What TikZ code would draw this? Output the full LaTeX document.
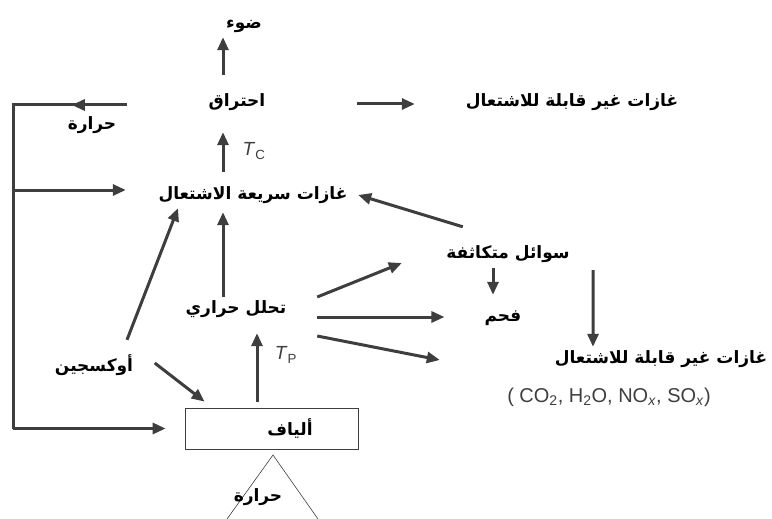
\documentclass[tikz,border=0pt]{standalone}
\usepackage{fontspec}
\setmainfont{Liberation Sans}
\newfontfamily\arabicfont[Script=Arabic]{DejaVu Sans}
\TeXXeTstate=1
\usetikzlibrary{arrows.meta,positioning}
\definecolor{flowgray}{RGB}{62,62,62}
\tikzset{
  artxt/.style={font=\arabicfont\bfseries\fontsize{17}{19}\selectfont,
    inner sep=0pt, text height=14pt, text depth=1pt, minimum width=#1},
  artxt/.default=40pt,
  lattxt/.style={font=\fontsize{19}{21}\selectfont, inner sep=0pt, text=flowgray},
  flow/.style={draw=flowgray, line width=3pt, -{Triangle[length=13pt,width=11pt]}},
  plain/.style={draw=flowgray, line width=3pt},
}
\newcommand{\artext}[1]{\beginR #1\endR}

\begin{document}
\begin{tikzpicture}[x=1pt,y=-1pt]
  \useasboundingbox (0,0) rectangle (772,519);

  % Combustion level
  \node[artxt=45pt] (light) at (244,22) {\artext{ضوء}};
  \node[artxt=60pt] (comb) at (237,100) {\artext{احتراق}};
  \node[artxt=231pt] (nonfl1) at (572,100) {\artext{غازات غير قابلة للاشتعال}};
  \node[artxt=50pt] (heatL) at (92,123) {\artext{حرارة}};
  \node[lattxt] (Tc) at (254,151) {\textit{T}\textsubscript{C}};
  \node[artxt=190pt] (fastgas) at (253,193) {\artext{غازات سريعة الاشتعال}};

  % Pyrolysis level
  \node[artxt=127pt] (liquids) at (508,252) {\artext{سوائل متكاثفة}};
  \node[artxt=30pt] (charcoal) at (503,315) {\artext{فحم}};
  \node[artxt=102pt] (pyro) at (236,307) {\artext{تحلل حراري}};
  \node[artxt=217pt] (nonfl2) at (661,357) {\artext{غازات غير قابلة للاشتعال}};
  \node[lattxt, font=\fontsize{20}{22}\selectfont] (formula) at (609,397)
    {( CO\textsubscript{2}, H\textsubscript{2}O, NO\textsubscript{\textit{x}}, SO\textsubscript{\textit{x}})};
  \node[lattxt] (Tp) at (286,355) {\textit{T}\textsubscript{P}};
  \node[artxt=75pt] (oxy) at (94,365) {\artext{أوكسجين}};

  % Fibres and heat source
  \node[draw=flowgray, line width=0.8pt, minimum width=173pt, minimum height=41pt,
        inner sep=0pt, font=\arabicfont\bfseries\fontsize{17}{19}\selectfont]
        (fibre) at (271.5,428.5) {\hspace*{37pt}\artext{ألياف}};
  \draw[flowgray, line width=0.6pt] (227,519) -- (273,455) -- (318,519);
  \node[artxt=45pt] (heatB) at (258,495) {\artext{حرارة}};

  % Main spine
  \draw[flow] ([shift={(-14,-17.5)}]comb.north) -- ([shift={(-21,7.5)}]light.south);
  \draw[flow] ([shift={(-30,-13.5)}]fastgas.north) -- ([shift={(-14,24.5)}]comb.south);
  \draw[flow] ([shift={(-13,-2.5)}]pyro.north) -- ([shift={(-30,11.5)}]fastgas.south);
  \draw[flow] ([shift={(-14.5,-6)}]fibre.north) -- ([shift={(21,18.5)}]pyro.south);

  % Oxygen
  \draw[flow] ([shift={(33,-17.5)}]oxy.north) -- ([shift={(-75,7.5)}]fastgas.south);
  \draw[flow] ([shift={(21.5,-2)}]oxy.east) -- ([shift={(20,-6)}]fibre.north west);

  % Products
  \draw[flow] ([shift={(90,4)}]comb.east) -- ([shift={(-41.5,4)}]nonfl1.west);
  \draw[flow] ([shift={(18.5,-17.5)}]liquids.north west) -- ([shift={(10,2)}]fastgas.east);
  \draw[flow] ([shift={(30,-10)}]pyro.east) -- ([shift={(-42.5,11)}]liquids.west);
  \draw[flow] ([shift={(30,10)}]pyro.east) -- ([shift={(-40,2)}]charcoal.west);
  \draw[flow] ([shift={(30,29)}]pyro.east) -- ([shift={(-112.5,3)}]nonfl2.west);
  \draw[flow] ([shift={(-15,8.5)}]liquids.south) -- ([shift={(-10,-12.5)}]charcoal.north);
  \draw[flow] ([shift={(21.5,10.5)}]liquids.south east) -- ([shift={(-68,-2.5)}]nonfl2.north);

  % Heat feedback loop
  \coordinate (loopTL) at (13,105);
  \coordinate (loopML) at (13,190);
  \coordinate (loopBL) at (13,428.5);
  \draw[plain] ([shift={(-80,5)}]comb.west) -- (loopTL) -- (loopBL);
  \draw[flow] ([shift={(-80,5)}]comb.west) -- ([shift={(-135,5)}]comb.west);
  \draw[flow, shorten >=32pt] (loopML) -- (fastgas.west |- loopML);
  \draw[flow, shorten >=19pt] (loopBL) -- (fibre.west);
\end{tikzpicture}
\end{document}
